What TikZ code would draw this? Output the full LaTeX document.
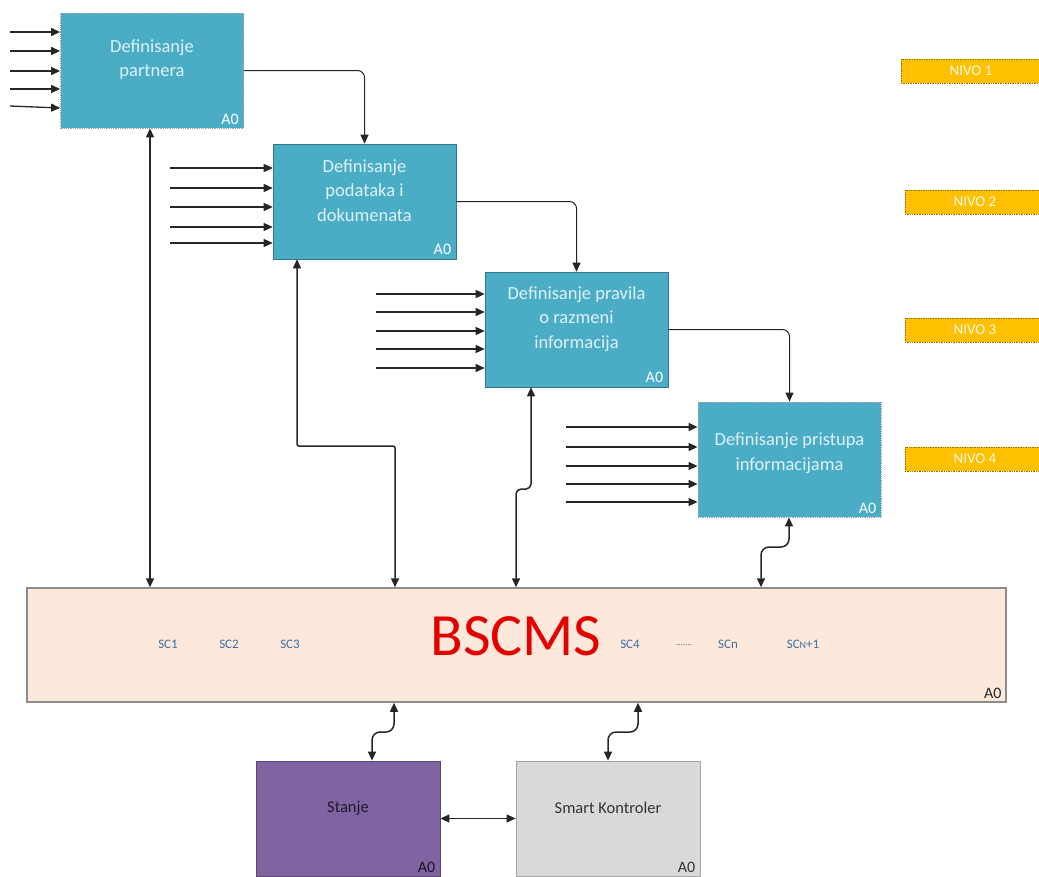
\documentclass[tikz,border=0pt]{standalone}
\usepackage{fontspec}
\setmainfont{Carlito}
\usetikzlibrary{arrows.meta}
\definecolor{boxblue}{HTML}{4BACC6}
\definecolor{boxtext}{HTML}{DDF2F7}
\definecolor{nivo}{HTML}{FFC000}
\definecolor{bsfill}{HTML}{FDE9DC}
\definecolor{sclab}{HTML}{3A6EA5}
\definecolor{stanjefill}{HTML}{8064A2}
\definecolor{smartfill}{HTML}{D9D9D9}
\tikzset{
  procbox/.style={fill=boxblue, minimum width=183pt, minimum height=115pt, inner sep=0pt},
  dottedborder/.style={draw=gray!70, densely dotted, line width=0.8pt},
  solidborder/.style={draw=boxblue!70!black, line width=0.6pt},
  boxlabel/.style={text=boxtext, align=center, font=\fontsize{18.5}{24.5}\selectfont},
  aolabel/.style={font=\fontsize{16}{16}\selectfont, anchor=south east, inner sep=0pt},
  nivobox/.style={fill=nivo, draw=nivo!60!black, densely dotted, line width=0.7pt, minimum width=140pt, minimum height=24pt, inner sep=0pt, text=white!92!nivo, font=\fontsize{15}{15}\selectfont},
  inarrow/.style={-{Triangle[length=9pt,width=8pt]}, line width=1.3pt, draw=black!85},
  flow/.style={-{Triangle[length=9pt,width=8pt]}, line width=1pt, rounded corners=7pt, draw=black!85},
  bi/.style={{Triangle[length=9pt,width=8pt]}-{Triangle[length=9pt,width=8pt]}, line width=1.5pt, draw=black!85},
  sc/.style={text=sclab, font=\fontsize{13}{13}\selectfont, inner sep=0pt}
}
\begin{document}
\begin{tikzpicture}[x=1pt,y=-1pt]
\useasboundingbox (0,0) rectangle (1039,876);
\clip (0,0) rectangle (1039,876);

% process boxes
\node[procbox, dottedborder] (b1) at (152,70.5) {};
\node[procbox, solidborder] (b2) at (364.5,201.5) {};
\node[procbox, solidborder] (b3) at (576.5,329.5) {};
\node[procbox, dottedborder] (b4) at (789.5,459.5) {};

\node[boxlabel] (t1) at (152,59.5) {Definisanje\\partnera};
\node[boxlabel] (t2) at (364.5,190.5) {Definisanje\\podataka i\\dokumenata};
\node[boxlabel] (t3) at (576.5,319) {Definisanje pravila\\o razmeni\\informacija};
\node[boxlabel] (t4) at (789.5,453) {Definisanje pristupa\\informacijama};

\node[aolabel, text=white] (a1) at ([shift={(-5,-4)}]b1.south east) {A0};
\node[aolabel, text=white] (a2) at ([shift={(-5,-4)}]b2.south east) {A0};
\node[aolabel, text=white] (a3) at ([shift={(-5,-4)}]b3.south east) {A0};
\node[aolabel, text=white] (a4) at ([shift={(-5,-4)}]b4.south east) {A0};

% level tags
\node[nivobox] (n1) at (971,71) {NIVO 1};
\node[nivobox] (n2) at (975,202) {NIVO 2};
\node[nivobox] (n3) at (975,330) {NIVO 3};
\node[nivobox] (n4) at (975,459) {NIVO 4};

% BSCMS
\node[fill=bsfill, draw=gray!90, line width=1.5pt, minimum width=979pt, minimum height=114pt, inner sep=0pt] (bs) at (516.5,645) {};
\node[text=red!90!black, font=\fontsize{60}{60}\selectfont, inner sep=0pt] (bst) at (516,636) {BSCMS};
\node[sc] (sc1) at (168,644) {SC1};
\node[sc] (sc2) at (229,644) {SC2};
\node[sc] (sc3) at (290,644) {SC3};
\node[sc] (sc4) at (630,644) {SC4};
\node[sc] (scd) at (684,645) {{\fontsize{9}{9}\selectfont .......}};
\node[sc] (scn) at (728,644) {SCn};
\node[sc] (scn1) at (803,644) {SC{\fontsize{10}{10}\selectfont N}+1};
\node[aolabel, text=black!85] (abs) at ([shift={(-5,-4)}]bs.south east) {A0};

% bottom boxes
\node[fill=stanjefill, draw=stanjefill!70!black, line width=0.8pt, minimum width=184pt, minimum height=115pt, inner sep=0pt] (st) at (348,818.5) {};
\node[text=black!75!stanjefill, font=\fontsize{16.5}{16.5}\selectfont] (stt) at (348,808) {Stanje};
\node[aolabel, text=black!80!stanjefill] (ast) at ([shift={(-5,-4)}]st.south east) {A0};
\node[fill=smartfill, draw=gray!70, line width=0.8pt, minimum width=184pt, minimum height=115pt, inner sep=0pt] (sm) at (608,818.5) {};
\node[text=black!80, font=\fontsize{16.5}{16.5}\selectfont] (smt) at (608,808) {Smart Kontroler};
\node[aolabel, text=black!80] (asm) at ([shift={(-5,-4)}]sm.south east) {A0};

% input arrows
\foreach \y/\ys in {32/32,51/51,71/71,89/89,106/108} \draw[inarrow] (10,\y) -- (b1.west |- 0,\ys);
\foreach \y in {168,188,207,227,243} \draw[inarrow] (170,\y) -- (b2.west |- 0,\y);
\foreach \y in {294,312,331,349,368} \draw[inarrow] (376,\y) -- (b3.west |- 0,\y);
\foreach \y in {427,447,466,484,502} \draw[inarrow] (566,\y) -- (b4.west |- 0,\y);

% flow between levels
\draw[flow] (b1.east) -| (b2.north);
\draw[flow] (b2.east) -| (b3.north);
\draw[flow] (b3.east) -| (b4.north);

% coordinates for vertical links
\coordinate (x150) at (150,0);
\coordinate (x297) at (297,0);
\coordinate (x395) at (395,0);
\coordinate (x531) at (531,0);
\coordinate (x516) at (516,0);
\coordinate (x789) at (789,0);
\coordinate (x761) at (761,0);
\coordinate (x394) at (394,0);
\coordinate (x372) at (372,0);
\coordinate (x638) at (638,0);
\coordinate (x608) at (608,0);

\draw[bi] (b1.south -| x150) -- (bs.north -| x150);
\draw[bi, rounded corners=2pt] (b2.south -| x297) |- (395,446) -- (bs.north -| x395);
\draw[bi, rounded corners=5pt] (b3.south -| x531) |- (516,489) -- (bs.north -| x516);
\draw[bi, rounded corners=8pt] (b4.south -| x789) |- (761,547) -- (bs.north -| x761);
\draw[bi, rounded corners=8pt] (bs.south -| x394) |- (372,732) -- (st.north -| x372);
\draw[bi, rounded corners=8pt] (bs.south -| x638) |- (608,732) -- (sm.north -| x608);
\draw[bi] (st.east) -- (sm.west);
\end{tikzpicture}
\end{document}
